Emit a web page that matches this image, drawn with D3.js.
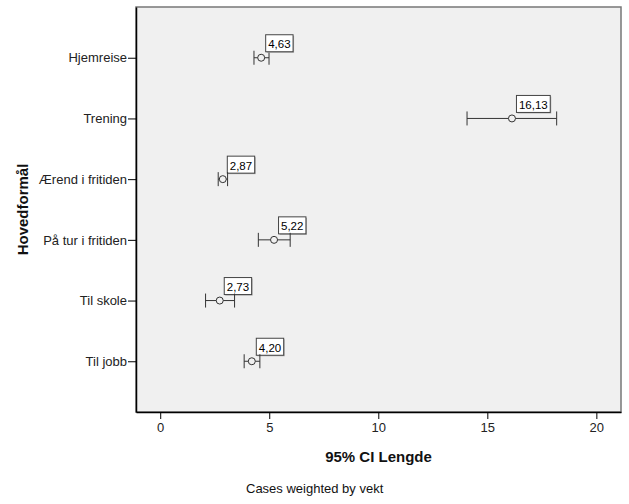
<!DOCTYPE html>
<html><head><meta charset="utf-8">
<script src="https://cdn.jsdelivr.net/npm/d3@7"></script>
<style>body{margin:0;background:#fff}text{font-family:"Liberation Sans",Arial,sans-serif}</style>
</head><body><svg id="c" width="629" height="504"></svg>
<script>
const categories = ["Hjemreise","Trening","Ærend i fritiden","På tur i fritiden","Til skole","Til jobb"];
const means = [4.63,16.13,2.87,5.22,2.73,4.20];
const lower = [4.30,14.07,2.66,4.50,2.08,3.85];
const upper = [4.99,18.18,3.09,5.96,3.41,4.57];
const meanLabels = ["4,63","16,13","2,87","5,22","2,73","4,20"];
const xTicks = [0,5,10,15,20];

const svg = d3.select("#c");
const L=136,R=621,T=7,B=412;
const x = d3.scaleLinear().domain([-1.11,21.13]).range([L,R]);
const y = d3.scalePoint().domain(categories).range([T,B]).padding(0.836);

svg.append("rect").attr("x",L).attr("y",T).attr("width",R-L).attr("height",B-T)
  .attr("fill","#f0f0f0").attr("stroke","#777").attr("stroke-width",1.5);

const xa = svg.append("g").attr("transform",`translate(0,${B})`)
  .call(d3.axisBottom(x).tickValues(xTicks).tickSize(7).tickPadding(4).tickSizeOuter(0));
xa.select(".domain").attr("stroke","#000").attr("stroke-width",1.5);
xa.selectAll("line").attr("stroke","#000");
xa.selectAll("text").attr("font-size",13).attr("fill","#222");

const ya = svg.append("g").attr("transform",`translate(${L},0)`)
  .call(d3.axisLeft(y).tickSize(8).tickPadding(1).tickSizeOuter(0));
ya.select(".domain").attr("stroke","#000").attr("stroke-width",1.5);
ya.selectAll("line").attr("stroke","#000");
ya.selectAll("text").attr("font-size",13).attr("fill","#222");

const data = categories.map((c,i)=>({c,m:means[i],lo:lower[i],hi:upper[i],lab:meanLabels[i]}));
const g = svg.append("g");
const cap=7;
data.forEach(d=>{
  const yy=y(d.c);
  g.append("line").attr("x1",x(d.lo)).attr("x2",x(d.hi)).attr("y1",yy).attr("y2",yy).attr("stroke","#333");
  [d.lo,d.hi].forEach(v=>g.append("line").attr("x1",x(v)).attr("x2",x(v)).attr("y1",yy-cap).attr("y2",yy+cap).attr("stroke","#333"));
  g.append("circle").attr("cx",x(d.m)).attr("cy",yy).attr("r",3.5).attr("fill","#f0f0f0").attr("stroke","#333");
  const t = g.append("text").attr("x",x(d.m)+7).attr("y",yy-9.5).attr("font-size",11.5).attr("fill","#000").text(d.lab);
  const w = t.node().getComputedTextLength();
  const bx=x(d.m)+4.5, by=yy-23, bw=w+5, bh=17;
  g.insert("rect","text").attr("x",bx+1).attr("y",by+1).attr("width",bw).attr("height",bh).attr("fill","#aaa");
  g.insert("rect","text").attr("x",bx).attr("y",by).attr("width",bw).attr("height",bh).attr("fill","#fff").attr("stroke","#444").attr("stroke-width",1);
  t.raise();
});

svg.append("text").attr("x",(L+R)/2).attr("y",462).attr("text-anchor","middle")
  .attr("font-size",15).attr("font-weight","bold").attr("fill","#111").text("95% CI Lengde");
svg.append("text").attr("transform",`translate(28,${(T+B)/2}) rotate(-90)`).attr("text-anchor","middle")
  .attr("font-size",15).attr("font-weight","bold").attr("fill","#111").text("Hovedformål");
svg.append("text").attr("x",246).attr("y",493).attr("font-size",13).attr("fill","#111").text("Cases weighted by vekt");
</script></body></html>
